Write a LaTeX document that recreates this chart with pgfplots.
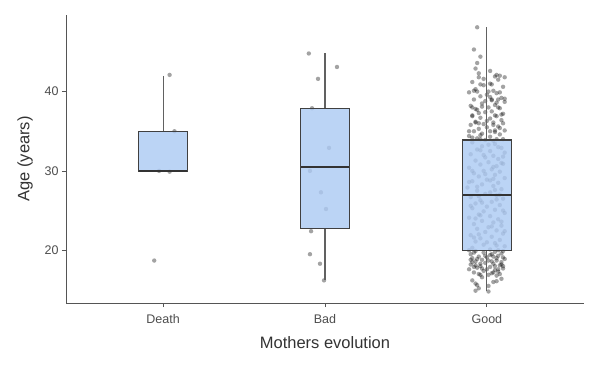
\documentclass[border=0pt]{standalone}
\usepackage{pgfplots}
\pgfplotsset{compat=1.18}
\usepgfplotslibrary{statistics}
\usepackage{fontspec}
\setmainfont{Liberation Sans}
\definecolor{boxfill}{RGB}{172,202,243}
\definecolor{ticklab}{RGB}{77,77,77}
\definecolor{axline}{RGB}{85,85,85}

\pgfplotstableread{
x y
1.04 42.1
1.07 35.0
0.975 30.0
1.04 29.9
0.945 18.7
}\death

\pgfplotstableread{
x y
1.90 44.8
2.074 43.1
1.957 41.6
1.92 37.9
2.025 32.9
1.907 30.0
1.975 27.3
2.006 25.2
1.914 22.4
1.907 19.5
1.969 18.3
1.994 16.2
}\bad

\pgfplotstableread{
x y
2.94 48.1
2.92 45.3
2.96 44.4
2.94 43.6
2.93 42.9
2.95 42.3
3.06 42.1
3.08 42.0
3.02 42.6
3.11 41.8
2.95 41.8
3.07 41.5
2.91 41.2
3.02 41.0
2.98 40.8
3.10 40.6
2.93 40.3
3.04 40.1
2.89 39.9
3.06 39.8
3.00 39.6
2.96 39.4
3.09 39.2
2.92 39.0
3.03 38.9
3.11 38.7
2.97 38.5
3.05 38.3
2.90 38.2
3.01 38.0
3.08 37.9
2.94 37.7
3.03 37.5
2.99 37.4
3.10 37.2
2.91 37.0
3.06 36.9
2.96 36.7
3.02 36.6
3.09 36.4
2.93 36.2
3.04 36.1
2.98 35.9
2.90 35.8
3.07 35.6
3.00 35.5
2.95 35.3
3.11 35.1
2.92 35.0
3.05 34.9
2.97 34.7
3.08 34.6
2.89 34.4
3.02 34.3
2.94 34.1
3.10 34.0
2.99 33.9
3.04 33.8
2.94 40.0
3.01 40.0
3.03 39.0
2.91 38.0
3.07 38.0
3.05 37.0
2.95 36.0
3.10 36.0
3.02 35.0
2.89 35.0
2.96 34.0
3.06 34.0
3.08 39.9
3.05 41.9
2.91 36.9
2.99 38.8
3.04 35.8
2.93 37.8
2.96 40.9
3.11 39.1
2.92 40.1
3.07 39.0
2.97 38.1
3.09 37.1
2.93 36.1
3.05 35.1
2.91 34.2
3.03 40.9
2.98 41.6
3.06 38.6
2.95 37.3
3.00 36.3
3.08 35.4
2.96 34.5
3.02 39.3
2.91 33.6
3.05 33.4
2.97 33.1
3.09 32.9
2.94 32.7
3.02 32.5
3.11 32.3
2.90 32.1
3.04 31.9
2.99 31.7
3.07 31.5
2.93 31.3
3.01 31.1
3.10 30.9
2.96 30.8
3.06 30.6
2.89 30.4
3.03 30.2
2.98 30.0
3.08 29.9
2.92 29.7
3.05 29.5
2.95 29.3
3.11 29.1
3.00 28.9
2.91 28.7
3.07 28.5
2.97 28.3
3.04 28.1
2.88 27.9
3.09 27.7
2.94 27.5
3.02 27.3
2.99 27.1
3.06 26.9
2.90 26.7
3.10 26.5
2.96 26.3
3.03 26.1
2.93 25.9
3.08 25.7
3.00 25.5
2.91 25.3
3.05 25.1
2.98 24.9
3.11 24.7
2.95 24.5
3.02 24.3
2.89 24.1
3.07 23.9
2.97 23.7
3.04 23.5
2.92 23.3
3.09 23.1
3.01 22.9
2.94 22.7
3.06 22.5
2.99 22.3
3.10 22.1
2.90 21.9
3.03 21.7
2.96 21.5
3.08 21.3
2.93 21.1
3.05 20.9
2.98 20.7
3.11 20.5
2.91 20.3
3.02 20.1
3.07 33.0
2.98 32.0
3.09 31.0
2.91 30.0
3.04 29.0
2.94 28.0
3.08 27.0
2.97 26.0
3.10 25.0
2.93 24.0
3.03 23.0
2.95 22.0
3.00 21.0
2.89 20.0
3.10 31.8
2.99 29.6
3.05 27.6
2.90 25.6
3.09 23.6
2.92 21.6
3.01 33.3
3.04 30.5
2.89 28.6
3.06 26.4
2.96 24.4
3.11 22.4
3.06 20.6
2.96 32.6
3.02 28.8
2.95 26.8
2.93 19.9
3.05 19.8
2.98 19.7
3.09 19.6
2.90 19.5
3.02 19.4
3.07 19.3
2.95 19.2
3.00 19.1
2.91 19.0
3.11 18.9
2.97 18.8
3.06 18.7
2.93 18.6
3.09 18.5
2.99 18.4
3.04 18.3
2.90 18.2
3.08 18.1
2.96 18.0
3.02 17.9
2.94 17.8
3.10 17.7
2.89 17.6
3.05 17.5
2.98 17.4
3.07 17.3
2.92 17.2
3.03 17.1
2.95 17.0
3.01 16.9
3.06 16.8
2.97 16.6
3.09 16.4
2.91 16.2
3.04 16.0
2.93 15.8
3.01 15.5
2.95 15.2
2.93 14.9
3.01 14.8
3.07 20.0
3.10 19.9
3.03 19.5
3.06 19.0
2.94 18.9
2.91 18.5
3.05 18.0
3.10 18.0
3.00 17.6
2.92 17.9
3.04 19.2
2.96 18.3
3.08 17.0
2.92 19.7
3.01 18.7
3.06 16.1
2.94 15.6
3.09 18.2
2.97 17.7
3.03 18.6
2.90 18.8
3.07 17.6
2.99 19.3
3.04 17.2
2.93 18.1
3.10 19.1
2.96 16.9
}\good

\begin{document}
\begin{tikzpicture}
\begin{axis}[
 scale only axis, width=518bp, height=288bp,
 xmin=0.4, xmax=3.6, ymin=13.35, ymax=49.65,
 axis x line*=bottom, axis y line*=left,
 axis line style={-, axline, line width=0.8bp},
 xtick={1,2,3}, xticklabels={Death,Bad,Good},
 ytick={20,30,40},
 tick align=outside, major tick length=4bp,
 tick style={axline, line width=0.8bp},
 ticklabel style={font=\fontsize{12.5bp}{14bp}\selectfont, text=ticklab},
 xticklabel style={yshift=-4bp},
 /pgf/number format/assume math mode=true,
 xlabel={Mothers evolution}, ylabel={Age (years)},
 label style={font=\fontsize{16.5bp}{19bp}\selectfont, text=black!80},
 x label style={at={([yshift=-40bp]axis description cs:0.5,0)}, anchor=center},
 y label style={at={([xshift=-41bp]axis description cs:0,0.5)}, anchor=center},
 clip=false,
 clip marker paths=true,
 boxplot/draw direction=y,
 boxplot/every box/.style={draw=black!75, line width=1.2bp, fill=boxfill, fill opacity=0.82},
 boxplot/every whisker/.style={draw=black!62, line width=1.1bp},
 boxplot/every median/.style={line width=2bp, draw=black!80},
 pts/.style={only marks, mark=*, mark size=2.2bp, draw opacity=0, fill=black, fill opacity=0.36, line width=0pt, mark options={draw opacity=0, fill=black, fill opacity=0.36, line width=0pt}},
]
\addplot[pts] table[x=x,y=y] {\death};
\addplot[pts] table[x=x,y=y] {\bad};
\addplot[pts] table[x=x,y=y] {\good};

\addplot[boxplot prepared={draw position=1, lower whisker=30, lower quartile=30, median=30, upper quartile=35, upper whisker=42, box extend=0.3, whisker extend=0}, draw=black!75, fill=boxfill] coordinates {};
\addplot[boxplot prepared={draw position=2, lower whisker=16.2, lower quartile=22.7, median=30.5, upper quartile=37.9, upper whisker=44.8, box extend=0.3, whisker extend=0}, draw=black!75, fill=boxfill] coordinates {};
\addplot[boxplot prepared={draw position=3, lower whisker=14.8, lower quartile=20, median=27, upper quartile=33.9, upper whisker=48.1, box extend=0.3, whisker extend=0}, draw=black!75, fill=boxfill] coordinates {};
\end{axis}
\path ([shift={(-66bp,-63bp)}]current axis.south west) rectangle ([shift={(16bp,15bp)}]current axis.north east);
\end{tikzpicture}
\end{document}
